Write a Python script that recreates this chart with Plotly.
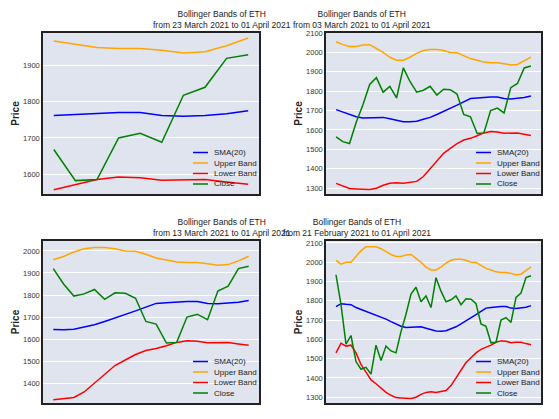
import plotly.graph_objects as go

# daily values 21 Feb 2021 .. 01 Apr 2021 (40 days)
close = [1935, 1780, 1575, 1620, 1485, 1445, 1455, 1420, 1570, 1490,
         1565, 1540, 1530, 1640, 1730, 1835, 1870, 1795, 1825, 1765,
         1920, 1850, 1795, 1805, 1825, 1780, 1810, 1808, 1785, 1680,
         1668, 1582, 1585, 1700, 1713, 1688, 1818, 1840, 1920, 1930]
sma = [1770, 1785, 1782, 1780, 1765, 1755, 1748, 1735, 1725, 1715,
       1705, 1692, 1680, 1668, 1662, 1662, 1665, 1665, 1658, 1650,
       1643, 1642, 1645, 1655, 1665, 1680, 1695, 1710, 1728, 1745,
       1762, 1765, 1768, 1770, 1770, 1762, 1760, 1762, 1767, 1775]
upper = [2010, 1990, 2000, 2000, 2030, 2060, 2080, 2080, 2080, 2070,
         2055, 2040, 2030, 2030, 2038, 2040, 2020, 2000, 1975, 1960,
         1960, 1975, 1995, 2010, 2015, 2015, 2010, 2000, 1998, 1985,
         1968, 1960, 1950, 1947, 1947, 1942, 1935, 1938, 1955, 1976]
lower = [1530, 1580, 1565, 1570, 1530, 1470, 1430, 1390, 1370, 1345,
         1325, 1310, 1298, 1296, 1295, 1293, 1300, 1315, 1325, 1328,
         1325, 1330, 1335, 1360, 1400, 1440, 1480, 1505, 1530, 1548,
         1557, 1570, 1585, 1592, 1590, 1583, 1585, 1585, 1578, 1572]

W, H = 559, 419
xa = [35 / W, 251 / W]
xb = [318 / W, 533 / W]
ya = [1 - 186 / H, 1 - 25 / H]
yb = [1 - 395 / H, 1 - 233 / H]
panels = [
    ("23 March 2021", 10, xa, ya, [1545, 1990]),
    ("03 March 2021", 30, xb, ya, [1270, 2100]),
    ("13 March 2021", 20, xa, yb, [1310, 2045]),
    ("21 February 2021", 40, xb, yb, [1270, 2110]),
]

series = [("SMA(20)", sma, "blue"), ("Upper Band", upper, "orange"),
          ("Lower Band", lower, "red"), ("Close", close, "green")]

fig = go.Figure()
for i, (start, n, xd, yd, yr) in enumerate(panels):
    k = "" if i == 0 else str(i + 1)
    for name, vals, col in series:
        v = vals[-n:]
        fig.add_trace(go.Scatter(x=list(range(n)), y=v, mode="lines", name=name,
                                 line=dict(color=col, width=1.5),
                                 xaxis="x" + k, yaxis="y" + k, showlegend=False))
    # legend entries inside each panel
    for j, (name, vals, col) in enumerate(series):
        ly = yd[0] + (10 + (3 - j) * 10.5) / H
        lx = xd[0] + 150 / W
        fig.add_shape(type="line", xref="paper", yref="paper", x0=lx, x1=lx + 15 / W,
                      y0=ly, y1=ly, line=dict(color=col, width=1.5))
        fig.add_annotation(xref="paper", yref="paper", x=lx + 19 / W, y=ly, text=name,
                           showarrow=False, xanchor="left", yanchor="middle",
                           font=dict(size=8, color="#222"))
    fig.add_annotation(xref="paper", yref="paper", x=(xd[0] + xd[1]) / 2, y=yd[1] + 0.002,
                       yanchor="bottom", showarrow=False,
                       text=f"Bollinger Bands of ETH<br>from {start} to 01 April 2021",
                       font=dict(size=8.5, color="#222"))
    fig.update_layout(**{
        "xaxis" + k: dict(domain=xd, anchor="y" + k, showticklabels=False, showgrid=False,
                          zeroline=False, range=[-0.05 * n, n - 1 + 0.05 * n], automargin=False,
                          showline=True, mirror=True, linecolor="#222", linewidth=1.5),
        "yaxis" + k: dict(domain=yd, anchor="x" + k, range=yr, dtick=100, gridcolor="white",
                          zeroline=False, showline=True, mirror=True, linecolor="#222",
                          linewidth=1.5, tickfont=dict(size=7.5, color="#333"), ticks="",
                          automargin=False,
                          title=dict(text="<b>Price</b>", font=dict(size=10, color="#222"),
                                     standoff=2)),
    })

fig.update_layout(width=W, height=H, margin=dict(l=0, r=0, t=0, b=0),
                  paper_bgcolor="white", plot_bgcolor="#dfe4ef",
                  font=dict(family="Liberation Sans"))
fig.write_html("out.html")
